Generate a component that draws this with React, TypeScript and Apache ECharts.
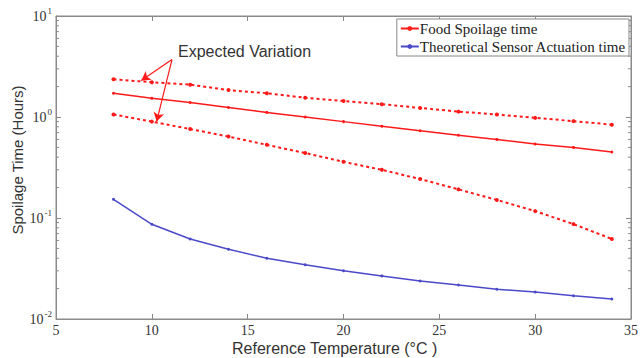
import React, { useEffect, useRef } from "react";
import * as echarts from "echarts";

const temps = [8, 10, 12, 14, 16, 18, 20, 22, 24, 26, 28, 30, 32, 34];
const foodSpoilage = [1.72, 1.53, 1.39, 1.24, 1.11, 1.0, 0.9, 0.81, 0.73, 0.66, 0.6, 0.54, 0.5, 0.45];
const upperBound = [2.36, 2.21, 2.09, 1.85, 1.72, 1.55, 1.44, 1.34, 1.23, 1.13, 1.06, 0.98, 0.91, 0.84];
const lowerBound = [1.06, 0.9, 0.76, 0.64, 0.53, 0.44, 0.36, 0.3, 0.243, 0.192, 0.151, 0.117, 0.087, 0.062];
const sensor = [0.153, 0.0867, 0.062, 0.049, 0.04, 0.0345, 0.03, 0.0267, 0.0238, 0.0217, 0.0197, 0.0185, 0.017, 0.0158];

const xTicks = [5, 10, 15, 20, 25, 30, 35];
const yRange = [0.01, 10];
const minorTickValues = [
  0.02, 0.03, 0.04, 0.05, 0.06, 0.07, 0.08, 0.09,
  0.2, 0.3, 0.4, 0.5, 0.6, 0.7, 0.8, 0.9,
  2, 3, 4, 5, 6, 7, 8, 9,
];
const arrowFrom = [11.05, 3.7];
const arrowTo1 = [9.45, 2.3];
const arrowTo2 = [10.25, 0.9];

const RED = "#ff1a1a";
const BLUE = "#4a4ac8";
const AXIS = "#8a8a8a";
const SERIF = "'Liberation Serif', 'Times New Roman', serif";
const SANS = "'Liberation Sans', Arial, sans-serif";

const pairs = (ys: number[]) => temps.map((t, i) => [t, ys[i]]);

export default function App() {
  const ref = useRef<HTMLDivElement>(null);
  useEffect(() => {
    if (!ref.current) return;
    const chart = echarts.init(ref.current, undefined, { renderer: "svg" });
    const yLabel = {
      formatter: (v: number) => `{b|10}{s|${Math.round(Math.log10(v))}}`,
      margin: 4,
      rich: {
        b: { fontFamily: SERIF, fontSize: 14, color: "#333" },
        s: { fontFamily: SERIF, fontSize: 9, color: "#333", padding: [0, 0, 10, 1] },
      },
    };
    chart.setOption({
      animation: false,
      backgroundColor: "#fff",
      grid: { left: 56, right: 9, top: 16, bottom: 39, show: true, borderColor: AXIS, borderWidth: 1 },
      xAxis: [
        {
          type: "value",
          min: xTicks[0],
          max: xTicks[xTicks.length - 1],
          interval: 5,
          axisLine: { lineStyle: { color: AXIS } },
          axisTick: { inside: true, length: 5, lineStyle: { color: AXIS } },
          axisLabel: { fontFamily: SERIF, fontSize: 14, color: "#333", margin: 4 },
          splitLine: { show: false },
        },
        {
          type: "value",
          position: "top",
          min: xTicks[0],
          max: xTicks[xTicks.length - 1],
          interval: 5,
          axisLine: { lineStyle: { color: AXIS } },
          axisTick: { inside: true, length: 5, lineStyle: { color: AXIS } },
          axisLabel: { show: false },
          splitLine: { show: false },
        },
      ],
      yAxis: [
        {
          type: "log",
          logBase: 10,
          min: yRange[0],
          max: yRange[1],
          axisLine: { show: true, lineStyle: { color: AXIS } },
          axisTick: { show: true, inside: true, length: 5, lineStyle: { color: AXIS } },
          axisLabel: yLabel,
          splitLine: { show: false },
        },
        {
          type: "log",
          logBase: 10,
          position: "right",
          min: yRange[0],
          max: yRange[1],
          axisLine: { show: true, lineStyle: { color: AXIS } },
          axisTick: { show: true, inside: true, length: 5, lineStyle: { color: AXIS } },
          axisLabel: { show: false },
          splitLine: { show: false },
        },
      ],
      legend: {
        data: ["Food Spoilage time", "Theoretical Sensor Actuation time"],
        orient: "vertical",
        right: 12,
        top: 19,
        itemWidth: 18,
        itemHeight: 6,
        itemGap: 3,
        padding: [2, 3, 2, 3],
        borderColor: "#888",
        borderWidth: 1,
        backgroundColor: "#fff",
        textStyle: { fontFamily: SERIF, fontSize: 15, color: "#222", padding: [0, 0, 0, -4] },
      },
      graphic: [
        {
          type: "text",
          left: 178,
          top: 43,
          style: { text: "Expected Variation", font: `16px ${SANS}`, fill: "#333" },
        },
        {
          type: "text",
          left: 232,
          top: 340,
          style: { text: "Reference Temperature (°C )", font: `16px ${SANS}`, fill: "#333" },
        },
        {
          type: "text",
          x: 10,
          y: 160,
          rotation: Math.PI / 2,
          style: {
            text: "Spoilage Time (Hours)",
            font: `15px ${SANS}`,
            fill: "#333",
            align: "center",
            verticalAlign: "top",
          },
        },
      ],
      series: [
        {
          name: "Food Spoilage time",
          type: "line",
          data: pairs(foodSpoilage),
          symbol: "circle",
          symbolSize: 3,
          lineStyle: { color: RED, width: 1.5 },
          itemStyle: { color: RED },
          markLine: {
            silent: true,
            symbol: ["none", "arrow"],
            symbolSize: [8, 9],
            label: { show: false },
            lineStyle: { color: RED, width: 1.2, type: "solid" },
            data: [
              [{ coord: arrowFrom }, { coord: arrowTo1 }],
              [{ coord: arrowFrom }, { coord: arrowTo2 }],
            ],
          },
        },
        {
          name: "Upper",
          type: "line",
          data: pairs(upperBound),
          symbol: "circle",
          symbolSize: 4,
          lineStyle: { color: RED, width: 2, type: [3, 3] },
          itemStyle: { color: RED },
        },
        {
          name: "Lower",
          type: "line",
          data: pairs(lowerBound),
          symbol: "circle",
          symbolSize: 4,
          lineStyle: { color: RED, width: 2, type: [3, 3] },
          itemStyle: { color: RED },
        },
        {
          name: "Theoretical Sensor Actuation time",
          type: "line",
          data: pairs(sensor),
          symbol: "circle",
          symbolSize: 3,
          lineStyle: { color: BLUE, width: 1.5 },
          itemStyle: { color: BLUE },
        },
        {
          name: "minorTicks",
          type: "custom",
          silent: true,
          data: minorTickValues.map((v) => [xTicks[0], v]),
          renderItem: (params: any, api: any) => {
            const p = api.coord([api.value(0), api.value(1)]);
            const cs = params.coordSys;
            const l = cs.x;
            const r = cs.x + cs.width;
            return {
              type: "group",
              children: [
                { type: "line", shape: { x1: l, y1: p[1], x2: l + 3, y2: p[1] }, style: { stroke: AXIS, lineWidth: 1 } },
                { type: "line", shape: { x1: r - 3, y1: p[1], x2: r, y2: p[1] }, style: { stroke: AXIS, lineWidth: 1 } },
              ],
            };
          },
        },
      ],
    });
    return () => chart.dispose();
  }, []);
  return <div ref={ref} style={{ width: 641, height: 358, position: "absolute", left: 0, top: 0 }} />;
}
